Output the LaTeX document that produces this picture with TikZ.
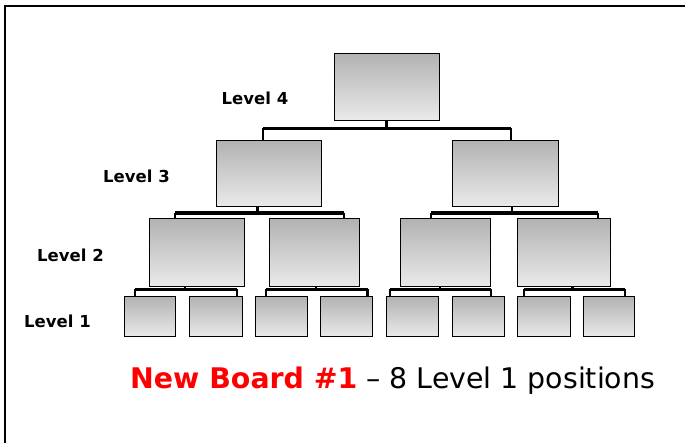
\documentclass[tikz,border=0pt]{standalone}
\usepackage{fontspec}
\setmainfont{DejaVu Sans}
\usepackage{tikz}
\usetikzlibrary{positioning}

\begin{document}
\begin{tikzpicture}[x=1pt,y=-1pt]
\tikzstyle{every node}+=[inner sep=0pt]
\tikzstyle{seat}=[draw=black, line width=1pt, top color=black!30, bottom color=black!8, minimum width=52pt, minimum height=40pt]
\tikzstyle{lvl}=[font=\fontsize{16.5}{18}\selectfont\bfseries]
\tikzstyle{bar}=[black, line width=3.5pt]
\tikzstyle{thinbar}=[black, line width=2.4pt]
\useasboundingbox (0,0) rectangle (685,443);
\draw [black, line width=1.5pt] (5,450) -- (5,6) -- (690,6);
% boxes
\node [seat, minimum width=105pt, minimum height=67pt] (l4) at (386.5,87.5) {};
\node [seat, minimum width=105pt, minimum height=66pt] (l3a) at (268.5,174) {};
\node [seat, minimum width=106pt, minimum height=66pt] (l3b) at (505,174) {};
\node [seat, minimum width=95pt, minimum height=68pt] (l2a) at (196.5,253) {};
\node [seat, minimum width=90pt, minimum height=68pt] (l2b) at (314,253) {};
\node [seat, minimum width=90pt, minimum height=68pt] (l2c) at (445,253) {};
\node [seat, minimum width=93pt, minimum height=68pt] (l2d) at (563.5,253) {};
\node [seat, minimum width=51pt] (l1a) at (150,317) {};
\node [seat, minimum width=53pt] (l1b) at (215.5,317) {};
\node [seat] (l1c) at (281,317) {};
\node [seat] (l1d) at (346,317) {};
\node [seat] (l1e) at (412.5,317) {};
\node [seat] (l1f) at (478,317) {};
\node [seat, minimum width=53pt] (l1g) at (543.5,317) {};
\node [seat, minimum width=51pt] (l1h) at (609,317) {};
% level 4 to level 3
\coordinate (b4l) at (263,128.5);
\coordinate (b4r) at (511,128.5);
\draw [thinbar] (l4.south) -- (l4.south |- b4l);
\draw [bar] (b4l) -- (b4r);
\draw [thinbar] (b4l) -- (b4l |- l3a.north);
\draw [thinbar] (b4r) -- (b4r |- l3b.north);
% level 3 to level 2
\coordinate (s3a) at (257.5,213);
\coordinate (b3a) at (175,213);
\coordinate (b3b) at (344,213);
\draw [thinbar] (s3a |- l3a.south) -- (s3a);
\draw [bar] (b3a) -- (b3b);
\draw [thinbar] (b3a) -- (b3a |- l2a.north);
\draw [thinbar] (b3b) -- (b3b |- l2b.north);
\coordinate (s3b) at (512,213);
\coordinate (b3c) at (431,213);
\coordinate (b3d) at (598,213);
\draw [thinbar] (s3b |- l3b.south) -- (s3b);
\draw [bar] (b3c) -- (b3d);
\draw [thinbar] (b3c) -- (b3c |- l2c.north);
\draw [thinbar] (b3d) -- (b3d |- l2d.north);
% level 2 to level 1
\coordinate (s2a) at (185,289.5);
\coordinate (b2a) at (135,289.5);
\coordinate (b2b) at (237,289.5);
\draw [thinbar] (s2a |- l2a.south) -- (s2a);
\draw [thinbar] (b2a) -- (b2b);
\draw [thinbar] (b2a) -- (b2a |- l1a.north);
\draw [thinbar] (b2b) -- (b2b |- l1b.north);
\coordinate (s2b) at (316,289.5);
\coordinate (b2c) at (266,289.5);
\coordinate (b2d) at (367.5,289.5);
\draw [thinbar] (s2b |- l2b.south) -- (s2b);
\draw [thinbar] (b2c) -- (b2d);
\draw [thinbar] (b2c) -- (b2c |- l1c.north);
\draw [thinbar] (b2d) -- (b2d |- l1d.north);
\coordinate (s2c) at (440,289.5);
\coordinate (b2e) at (390,289.5);
\coordinate (b2f) at (491,289.5);
\draw [thinbar] (s2c |- l2c.south) -- (s2c);
\draw [thinbar] (b2e) -- (b2f);
\draw [thinbar] (b2e) -- (b2e |- l1e.north);
\draw [thinbar] (b2f) -- (b2f |- l1f.north);
\coordinate (s2d) at (572.5,289.5);
\coordinate (b2g) at (524,289.5);
\coordinate (b2h) at (625,289.5);
\draw [thinbar] (s2d |- l2d.south) -- (s2d);
\draw [thinbar] (b2g) -- (b2h);
\draw [thinbar] (b2g) -- (b2g |- l1g.north);
\draw [thinbar] (b2h) -- (b2h |- l1h.north);
% labels
\node [lvl] (lv4) at (255,98) {Level 4};
\node [lvl] (lv3) at (136.5,176) {Level 3};
\node [lvl] (lv2) at (70.5,255) {Level 2};
\node [lvl] (lv1) at (57.5,321) {Level 1};
\node [anchor=base west, font=\fontsize{28.4}{32}\selectfont] (title) at (130,388)
  {\textcolor{red}{\bfseries New Board \#1} -- 8 Level 1 positions};
\end{tikzpicture}
\end{document}
